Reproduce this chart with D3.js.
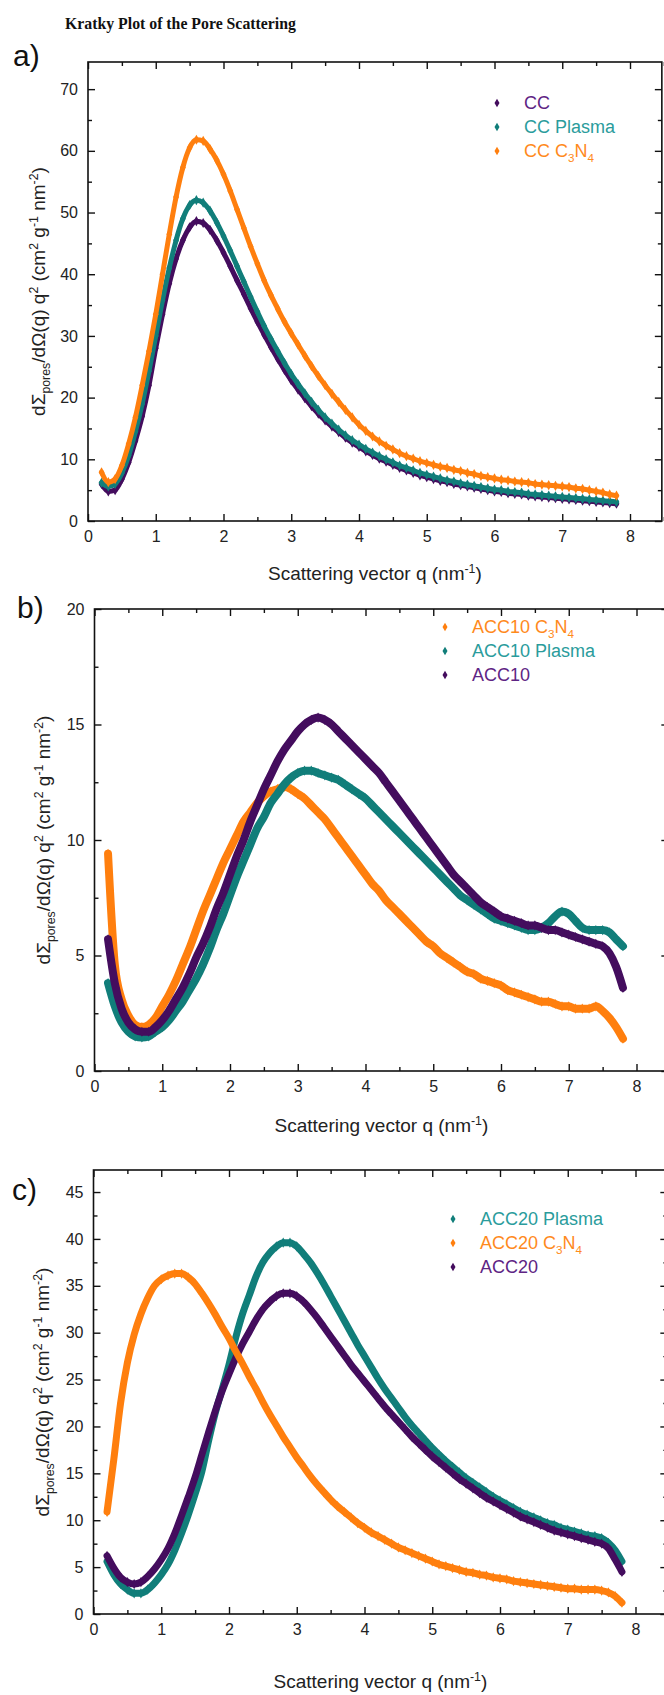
<!DOCTYPE html>
<html>
<head>
<meta charset="utf-8">
<script src="https://cdn.jsdelivr.net/npm/d3@7"></script>
<style>
  body { margin: 0; background: #fff; }
  svg { display: block; }
</style>
</head>
<body>
<svg id="chart" width="664" height="1695"></svg>
<script>
// scattering vector q (nm^-1), shared by all nine series
const qValues = [
  0.2, 0.3, 0.4, 0.5, 0.6, 0.7, 0.8, 0.9, 1.0,
  1.1, 1.2, 1.3, 1.4, 1.5, 1.6, 1.7, 1.8, 1.9, 2.0,
  2.1, 2.2, 2.3, 2.4, 2.5, 2.6, 2.7, 2.8, 2.9, 3.0,
  3.1, 3.2, 3.3, 3.4, 3.5, 3.6, 3.7, 3.8, 3.9, 4.0,
  4.1, 4.2, 4.3, 4.4, 4.5, 4.6, 4.7, 4.8, 4.9, 5.0,
  5.1, 5.2, 5.3, 5.4, 5.5, 5.6, 5.7, 5.8, 5.9, 6.0,
  6.1, 6.2, 6.3, 6.4, 6.5, 6.6, 6.7, 6.8, 6.9, 7.0,
  7.1, 7.2, 7.3, 7.4, 7.5, 7.6, 7.7, 7.8
];

// panel a
const ccY = [
  6.0, 4.8, 5.0, 6.8, 9.5, 13.0, 17.0, 22.0, 28.0,
  33.5, 38.5, 42.5, 45.5, 47.6, 48.6, 48.3, 47.2, 45.5, 43.5,
  41.3, 39.0, 36.8, 34.5, 32.3, 30.2, 28.2, 26.3, 24.5, 22.8,
  21.3, 19.9, 18.6, 17.4, 16.3, 15.3, 14.4, 13.5, 12.7, 12.0,
  11.3, 10.7, 10.1, 9.6, 9.1, 8.6, 8.2, 7.8, 7.4, 7.1,
  6.8, 6.5, 6.3, 6.0, 5.8, 5.6, 5.4, 5.2, 5.0, 4.8,
  4.7, 4.5, 4.4, 4.3, 4.1, 4.0, 3.9, 3.8, 3.7, 3.6,
  3.5, 3.4, 3.3, 3.2, 3.1, 3.0, 2.9, 2.8
];
const ccPlasmaY = [
  6.2, 5.6, 6.0, 7.8, 10.6, 14.5, 19.0, 24.3, 30.0,
  35.8, 41.0, 45.5, 49.0, 51.2, 52.0, 51.6, 50.3, 48.4, 46.2,
  43.8, 41.3, 38.8, 36.3, 33.9, 31.6, 29.5, 27.5, 25.6, 23.8,
  22.2, 20.7, 19.3, 18.0, 16.8, 15.8, 14.8, 13.9, 13.1, 12.4,
  11.7, 11.1, 10.5, 10.0, 9.5, 9.0, 8.6, 8.2, 7.8, 7.5,
  7.2, 6.9, 6.6, 6.4, 6.1, 5.9, 5.7, 5.5, 5.3, 5.1,
  5.0, 4.8, 4.7, 4.6, 4.4, 4.3, 4.2, 4.1, 4.0, 3.9,
  3.8, 3.7, 3.6, 3.5, 3.4, 3.3, 3.2, 3.1
];
const ccC3N4Y = [
  7.9, 6.3, 6.8, 9.0, 12.5, 16.8, 22.0, 27.5, 33.5,
  40.0, 46.5, 52.5, 57.3, 60.5, 61.8, 61.6, 60.3, 58.5, 56.2,
  53.5, 50.5, 47.5, 44.5, 41.7, 39.0, 36.6, 34.4, 32.3, 30.4,
  28.6, 26.8, 25.1, 23.5, 22.0, 20.6, 19.3, 18.0, 16.8, 15.6,
  14.6, 13.7, 12.9, 12.2, 11.6, 11.0, 10.5, 10.1, 9.7, 9.4,
  9.1, 8.8, 8.6, 8.3, 8.1, 7.8, 7.6, 7.3, 7.1, 6.9,
  6.7, 6.6, 6.4, 6.3, 6.2, 6.0, 5.9, 5.8, 5.7, 5.6,
  5.5, 5.3, 5.2, 5.0, 4.8, 4.6, 4.3, 4.1
];

// panel b
const acc10C3N4Y = [
  9.4, 4.6, 3.1, 2.4, 2.0, 1.9, 2.0, 2.3, 2.8,
  3.3, 3.9, 4.6, 5.3, 6.1, 6.9, 7.6, 8.3, 9.0, 9.6,
  10.2, 10.8, 11.2, 11.6, 11.9, 12.1, 12.2, 12.3, 12.2, 12.0,
  11.8, 11.5, 11.2, 10.9, 10.5, 10.1, 9.7, 9.3, 8.9, 8.5,
  8.1, 7.8, 7.4, 7.1, 6.8, 6.5, 6.2, 5.9, 5.6, 5.4,
  5.1, 4.9, 4.7, 4.5, 4.3, 4.2, 4.0, 3.9, 3.8, 3.7,
  3.5, 3.4, 3.3, 3.2, 3.1, 3.0, 3.0, 2.9, 2.8, 2.8,
  2.7, 2.7, 2.7, 2.8, 2.6, 2.3, 1.9, 1.4
];
const acc10PlasmaY = [
  3.8, 2.8, 2.1, 1.7, 1.5, 1.45, 1.5, 1.7, 1.9,
  2.2, 2.6, 3.0, 3.5, 4.0, 4.6, 5.3, 6.1, 6.8, 7.6,
  8.4, 9.1, 9.8, 10.5, 11.0, 11.6, 12.0, 12.4, 12.7, 12.9,
  13.0, 13.0, 12.9, 12.8, 12.7, 12.6, 12.4, 12.2, 12.0, 11.8,
  11.5, 11.2, 10.9, 10.6, 10.3, 10.0, 9.7, 9.4, 9.1, 8.8,
  8.5, 8.2, 7.9, 7.6, 7.4, 7.2, 7.0, 6.8, 6.6, 6.5,
  6.4, 6.3, 6.2, 6.1, 6.1, 6.2, 6.4, 6.7, 6.9, 6.8,
  6.5, 6.2, 6.1, 6.1, 6.1, 6.0, 5.7, 5.4
];
const acc10Y = [
  5.7, 3.8, 2.7, 2.1, 1.8, 1.7, 1.7, 1.9, 2.2,
  2.6, 3.1, 3.6, 4.2, 4.9, 5.5, 6.2, 7.0, 7.7, 8.5,
  9.3, 10.0, 10.8, 11.5, 12.2, 12.8, 13.4, 13.9, 14.3, 14.7,
  15.0, 15.2, 15.3, 15.2, 15.0, 14.7, 14.4, 14.1, 13.8, 13.5,
  13.2, 12.9, 12.5, 12.1, 11.7, 11.3, 10.9, 10.5, 10.1, 9.7,
  9.3, 8.9, 8.5, 8.2, 7.9, 7.6, 7.3, 7.1, 6.9, 6.7,
  6.6, 6.5, 6.4, 6.3, 6.3, 6.2, 6.1, 6.1, 6.0, 5.9,
  5.8, 5.7, 5.6, 5.5, 5.4, 5.1, 4.5, 3.6
];

// panel c
const acc20PlasmaY = [
  5.6, 4.2, 3.2, 2.6, 2.2, 2.2, 2.6, 3.3, 4.2,
  5.3, 6.8, 8.6, 10.6, 12.8, 15.2, 18.5, 21.5, 24.0, 26.6,
  29.5, 32.0, 34.0, 36.0, 37.5, 38.5, 39.2, 39.6, 39.6, 39.2,
  38.4, 37.5, 36.4, 35.2, 33.9, 32.6, 31.3, 30.0, 28.7, 27.5,
  26.3, 25.1, 24.0, 23.0, 22.0, 21.0, 20.1, 19.3, 18.5, 17.7,
  17.0, 16.3, 15.7, 15.1, 14.5, 14.0, 13.5, 13.0, 12.5, 12.1,
  11.7, 11.3, 10.9, 10.6, 10.3, 10.0, 9.7, 9.5, 9.2, 9.0,
  8.8, 8.6, 8.4, 8.3, 8.1, 7.6, 6.8, 5.6
];
const acc20C3N4Y = [
  10.9, 16.5, 22.5, 26.8, 29.8, 32.0, 33.7, 35.0, 35.7,
  36.1, 36.3, 36.3, 35.9, 35.2, 34.2, 33.1, 31.9, 30.6, 29.4,
  28.0, 26.7, 25.3, 24.0, 22.6, 21.3, 20.1, 18.9, 17.8, 16.7,
  15.7, 14.7, 13.8, 13.0, 12.2, 11.5, 10.9, 10.3, 9.7, 9.2,
  8.7, 8.3, 7.9, 7.5, 7.1, 6.8, 6.5, 6.2, 5.9, 5.6,
  5.3, 5.1, 4.9, 4.7, 4.5, 4.4, 4.2, 4.1, 3.9, 3.8,
  3.7, 3.5, 3.4, 3.3, 3.2, 3.1, 3.0, 2.9, 2.8, 2.7,
  2.7, 2.6, 2.6, 2.6, 2.5, 2.3, 1.9, 1.2
];
const acc20Y = [
  6.2, 4.9, 3.9, 3.4, 3.2, 3.4, 4.0, 4.8, 5.8,
  7.0, 8.6, 10.5, 12.5, 14.6, 17.0, 19.4, 21.7, 23.8, 25.6,
  27.3, 28.8, 30.1, 31.4, 32.5, 33.3, 33.9, 34.2, 34.2, 33.9,
  33.3, 32.5, 31.6, 30.6, 29.6, 28.6, 27.6, 26.6, 25.7, 24.8,
  23.9, 23.0, 22.1, 21.3, 20.5, 19.7, 18.9, 18.2, 17.5, 16.8,
  16.2, 15.6, 15.0, 14.4, 13.9, 13.4, 12.9, 12.4, 12.0, 11.6,
  11.2, 10.8, 10.4, 10.1, 9.8, 9.5, 9.2, 8.9, 8.7, 8.5,
  8.3, 8.1, 7.9, 7.7, 7.5, 7.0, 5.8, 4.5
];

// ticks
const xTicks = [0, 1, 2, 3, 4, 5, 6, 7, 8];
const xMinorTicks = [0.5, 1.5, 2.5, 3.5, 4.5, 5.5, 6.5, 7.5, 8.5];
const yTicksA = [0, 10, 20, 30, 40, 50, 60, 70];
const yTicksB = [0, 5, 10, 15, 20];
const yTicksC = [0, 5, 10, 15, 20, 25, 30, 35, 40, 45];

const purple = '#440d5e', teal = '#117e7a', orange = '#ff7f0e';
const textColor = { [purple]: '#5e2584', [teal]: '#2a9c9c', [orange]: '#ff8a1c' };
const sans = '"Liberation Sans", Arial, sans-serif';

const svg = d3.select('#chart');

function richText(sel, parts, size) {
    let shift = 0;
    parts.forEach(p => {
        const target = p.sub ? 5 : p.sup ? -7 : 0;
        sel.append('tspan')
            .attr('dy', target - shift)
            .attr('font-size', (p.sub || p.sup) ? size * 0.65 : size)
            .text(p.t);
        shift = target;
    });
}

const yTitleParts = [
    { t: 'd\u03A3' }, { t: 'pores', sub: true }, { t: '/d\u03A9(q) q' }, { t: '2', sup: true },
    { t: ' (cm' }, { t: '2', sup: true }, { t: ' g' }, { t: '-1', sup: true },
    { t: ' nm' }, { t: '-2', sup: true }, { t: ')' }
];
const xTitleParts = [{ t: 'Scattering vector q (nm' }, { t: '-1', sup: true }, { t: ')' }];

const panels = [
    {
        label: 'a)', labelPos: [13, 66], left: 88, top: 62, bottom: 521, yMax: 74.4,
        yTicks: yTicksA, yStep: 5, yTitleX: 45, xTitleY: 580, lineWidth: 5,
        legend: { x: 497, y: 103 },
        series: [
            { name: [{ t: 'CC' }], values: ccY, color: purple },
            { name: [{ t: 'CC Plasma' }], values: ccPlasmaY, color: teal },
            { name: [{ t: 'CC C' }, { t: '3', sub: true }, { t: 'N' }, { t: '4', sub: true }], values: ccC3N4Y, color: orange }
        ],
        drawOrder: [0, 1, 2]
    },
    {
        label: 'b)', labelPos: [17, 618], left: 94.5, top: 609, bottom: 1071, yMax: 20,
        yTicks: yTicksB, yStep: 2.5, yTitleX: 50, xTitleY: 1132, lineWidth: 8,
        legend: { x: 445, y: 627 },
        series: [
            { name: [{ t: 'ACC10 C' }, { t: '3', sub: true }, { t: 'N' }, { t: '4', sub: true }], values: acc10C3N4Y, color: orange },
            { name: [{ t: 'ACC10 Plasma' }], values: acc10PlasmaY, color: teal },
            { name: [{ t: 'ACC10' }], values: acc10Y, color: purple }
        ],
        drawOrder: [0, 1, 2]
    },
    {
        label: 'c)', labelPos: [12, 1200], left: 93.5, top: 1170, bottom: 1614, yMax: 47.35,
        yTicks: yTicksC, yStep: 2.5, yTitleX: 49, xTitleY: 1688, lineWidth: 7,
        legend: { x: 453, y: 1219 },
        series: [
            { name: [{ t: 'ACC20 Plasma' }], values: acc20PlasmaY, color: teal },
            { name: [{ t: 'ACC20 C' }, { t: '3', sub: true }, { t: 'N' }, { t: '4', sub: true }], values: acc20C3N4Y, color: orange },
            { name: [{ t: 'ACC20' }], values: acc20Y, color: purple }
        ],
        drawOrder: [0, 2, 1]
    }
];

svg.append('text')
    .attr('x', 65).attr('y', 29)
    .style('font-family', '"Liberation Serif", "Times New Roman", serif')
    .attr('font-weight', 'bold').attr('font-size', 15.8)
    .attr('fill', '#111')
    .text('Kratky Plot of the Pore Scattering');

const pxPerUnit = 67.75;
const xMax = 8.47;

panels.forEach(p => {
    const x = d3.scaleLinear().domain([0, xMax]).range([p.left, p.left + xMax * pxPerUnit]);
    const y = d3.scaleLinear().domain([0, p.yMax]).range([p.bottom, p.top]);
    const right = x(xMax);
    const g = svg.append('g').style('font-family', sans);

    const clipId = 'clip-' + p.label[0];
    svg.append('clipPath').attr('id', clipId)
        .append('rect').attr('x', p.left).attr('y', p.top).attr('width', right - p.left).attr('height', p.bottom - p.top);

    const plot = g.append('g').attr('clip-path', `url(#${clipId})`);
    const line = d3.line().x((d, i) => x(qValues[i])).y(d => y(d)).curve(d3.curveMonotoneX);
    const diamond = d3.symbol().type(d3.symbolDiamond).size(30);

    p.drawOrder.forEach(k => {
        const s = p.series[k];
        plot.append('path')
            .attr('d', line(s.values))
            .attr('fill', 'none')
            .attr('stroke', s.color)
            .attr('stroke-width', p.lineWidth)
            .attr('stroke-linejoin', 'round')
            .attr('stroke-linecap', 'round');
        plot.selectAll(null).data(s.values).join('path')
            .attr('d', diamond)
            .attr('transform', (d, i) => `translate(${x(qValues[i])},${y(d)})`)
            .attr('fill', s.color);
    });

    const yMinor = d3.range(p.yStep, p.yMax, p.yStep * 2);
    const tidy = sel => {
        sel.select('.domain').remove();
        sel.selectAll('line').attr('stroke', '#111').attr('stroke-width', 1.4);
        sel.selectAll('text').attr('font-size', 16).attr('fill', '#222').attr('font-family', null);
    };

    g.append('g').attr('transform', `translate(0,${p.bottom})`)
        .call(d3.axisBottom(x).tickValues(xTicks).tickFormat(d3.format('d')).tickSizeInner(-7).tickSizeOuter(0).tickPadding(10))
        .call(tidy);
    g.append('g').attr('transform', `translate(0,${p.bottom})`)
        .call(d3.axisBottom(x).tickValues(xMinorTicks).tickFormat('').tickSizeInner(-4).tickSizeOuter(0))
        .call(tidy);
    g.append('g').attr('transform', `translate(0,${p.top})`)
        .call(d3.axisTop(x).tickValues(xTicks).tickFormat('').tickSizeInner(-7).tickSizeOuter(0))
        .call(tidy);
    g.append('g').attr('transform', `translate(0,${p.top})`)
        .call(d3.axisTop(x).tickValues(xMinorTicks).tickFormat('').tickSizeInner(-4).tickSizeOuter(0))
        .call(tidy);
    g.append('g').attr('transform', `translate(${p.left},0)`)
        .call(d3.axisLeft(y).tickValues(p.yTicks).tickFormat(d3.format('d')).tickSizeInner(-7).tickSizeOuter(0).tickPadding(10))
        .call(tidy);
    g.append('g').attr('transform', `translate(${p.left},0)`)
        .call(d3.axisLeft(y).tickValues(yMinor).tickFormat('').tickSizeInner(-4).tickSizeOuter(0))
        .call(tidy);
    g.append('g').attr('transform', `translate(${right},0)`)
        .call(d3.axisRight(y).tickValues(p.yTicks).tickFormat('').tickSizeInner(-7).tickSizeOuter(0))
        .call(tidy);
    g.append('g').attr('transform', `translate(${right},0)`)
        .call(d3.axisRight(y).tickValues(yMinor).tickFormat('').tickSizeInner(-4).tickSizeOuter(0))
        .call(tidy);

    g.append('rect')
        .attr('x', p.left).attr('y', p.top)
        .attr('width', right - p.left).attr('height', p.bottom - p.top)
        .attr('fill', 'none').attr('stroke', '#111').attr('stroke-width', 1.6);

    // panel letter
    g.append('text')
        .attr('x', p.labelPos[0]).attr('y', p.labelPos[1])
        .attr('font-size', 30).attr('fill', '#111')
        .text(p.label);

    // axis titles
    const xt = g.append('text')
        .attr('x', (p.left + right) / 2).attr('y', p.xTitleY)
        .attr('text-anchor', 'middle').attr('fill', '#222');
    richText(xt, xTitleParts, 19);

    const yt = g.append('text')
        .attr('transform', `translate(${p.yTitleX},${(p.top + p.bottom) / 2}) rotate(-90)`)
        .attr('text-anchor', 'middle').attr('fill', '#222');
    richText(yt, yTitleParts, 19);

    // legend
    const lg = g.append('g').attr('transform', `translate(${p.legend.x},${p.legend.y})`);
    p.series.forEach((s, i) => {
        const row = lg.append('g').attr('transform', `translate(0,${i * 24})`);
        row.append('path').attr('d', d3.symbol().type(d3.symbolDiamond).size(22)).attr('fill', s.color);
        const t = row.append('text')
            .attr('x', 27).attr('y', 6)
            .attr('fill', textColor[s.color]);
        richText(t, s.name, 18);
    });
});
</script>
</body>
</html>
